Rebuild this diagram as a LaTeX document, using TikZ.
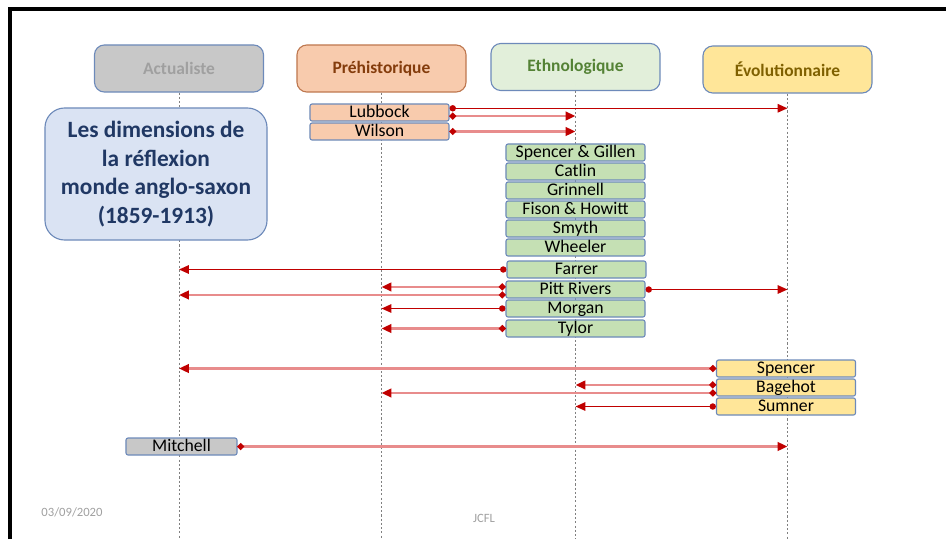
\documentclass[tikz,border=0pt]{standalone}
\usepackage{fontspec}
\setmainfont{Carlito}
\usetikzlibrary{arrows.meta}
\definecolor{bordbleu}{RGB}{109,138,186}
\definecolor{actfond}{RGB}{200,200,200}
\definecolor{acttexte}{RGB}{160,160,160}
\definecolor{prefond}{RGB}{248,203,173}
\definecolor{pretexte}{RGB}{132,60,12}
\definecolor{prebord}{RGB}{190,120,80}
\definecolor{ethfond}{RGB}{226,239,218}
\definecolor{ethtexte}{RGB}{84,130,53}
\definecolor{ethboite}{RGB}{197,224,180}
\definecolor{evofond}{RGB}{255,230,153}
\definecolor{evotexte}{RGB}{127,96,0}
\definecolor{titrefond}{RGB}{218,227,243}
\definecolor{titretexte}{RGB}{32,56,100}
\definecolor{rougef}{RGB}{192,0,0}
\definecolor{rosec}{RGB}{232,140,140}
\tikzset{
    entete/.style={draw=bordbleu, thick, rounded corners=7pt, minimum width=4.225cm,
        minimum height=1.175cm, font=\fontsize{12.4}{14}\selectfont\bfseries},
    auteur/.style={draw=bordbleu, thick, rounded corners=1.5pt, minimum width=3.475cm,
        minimum height=0.425cm, inner sep=0pt, text height=9.4pt, text depth=2pt,
        font=\fontsize{12.6}{13}\selectfont},
    vie/.style={draw=gray, thin, dash pattern=on 1.5pt off 1.5pt},
    msg/.style={draw=rougef, line width=1pt,
        {Circle[length=4.5pt]}-{Triangle[length=7pt,width=6pt]}},
    msgc/.style={draw=rosec, line width=2pt,
        {Circle[length=4.5pt,color=rougef]}-{Triangle[length=7pt,width=6pt,color=rougef]}},
    pied/.style={text=acttexte, font=\fontsize{9}{10}\selectfont}
}

\begin{document}
\begin{tikzpicture}[x=0.025cm, y=-0.025cm]
    \useasboundingbox (0,0) rectangle (946,539);
    \draw[line width=2.8pt] (10,539) -- (10,9) -- (946,9);

    % les quatre entetes
    \node[entete, fill=actfond, text=acttexte] (act) at (179,68.5) {Actualiste};
    \node[entete, fill=prefond, text=pretexte, draw=prebord] (pre) at (381.5,68.5) {Préhistorique};
    \node[entete, fill=ethfond, text=ethtexte] (eth) at (575.5,67) {Ethnologique};
    \node[entete, fill=evofond, text=evotexte] (evo) at (787.5,69.5) {Évolutionnaire};
    \foreach \e in {act,pre,eth,evo}
        \draw[vie] (\e.south) -- (\e.south |- 0,539);

    \node[draw=bordbleu, thick, fill=titrefond, text=titretexte, rounded corners=14pt,
        minimum width=5.55cm, minimum height=3.3cm, align=center,
        font=\fontsize{16.6}{20.3}\selectfont\bfseries] (titre) at (156,174)
        {Les dimensions de\\la réflexion\\monde anglo-saxon\\(1859-1913)};

    \node[auteur, fill=prefond] (lubbock) at (379.5,112.5) {Lubbock};
    \node[auteur, fill=prefond] (wilson) at (379.5,131.5) {Wilson};

    \node[auteur, fill=ethboite] (spgi) at (575.5,152.5) {Spencer \& Gillen};
    \node[auteur, fill=ethboite] (catlin) at (575.5,171.5) {Catlin};
    \node[auteur, fill=ethboite] (grinnell) at (575.5,190.5) {Grinnell};
    \node[auteur, fill=ethboite] (fiho) at (575.5,209.5) {Fison \& Howitt};
    \node[auteur, fill=ethboite] (smyth) at (575.5,228.5) {Smyth};
    \node[auteur, fill=ethboite] (wheeler) at (575.5,247.5) {Wheeler};
    \node[auteur, fill=ethboite] (farrer) at (576.5,269.5) {Farrer};
    \node[auteur, fill=ethboite] (pitt) at (575.5,289.5) {Pitt Rivers};
    \node[auteur, fill=ethboite] (morgan) at (575.5,308.5) {Morgan};
    \node[auteur, fill=ethboite] (tylor) at (575.5,328.5) {Tylor};

    \node[auteur, fill=evofond] (spencer) at (786,368.5) {Spencer};
    \node[auteur, fill=evofond] (bagehot) at (786,387.5) {Bagehot};
    \node[auteur, fill=evofond] (sumner) at (786,406.5) {Sumner};

    \node[auteur, fill=actfond, minimum width=2.775cm] (mitchell) at (181.5,446.5) {Mitchell};

    % les messages
    \draw[msg] ([yshift=3pt]lubbock.east) -- ([yshift=3pt]lubbock.east -| evo);
    \draw[msgc] ([yshift=-2.5pt]lubbock.east) -- ([yshift=-2.5pt]lubbock.east -| eth);
    \draw[msgc] (wilson.east) -- (wilson.east -| eth);
    \draw[msg] (farrer.west) -- (farrer.west -| act);
    \draw[msgc] ([yshift=1.8pt]pitt.west) -- ([yshift=1.8pt]pitt.west -| pre);
    \draw[msgc] ([yshift=-3.9pt]pitt.west) -- ([yshift=-3.9pt]pitt.west -| act);
    \draw[msg] (pitt.east) -- (pitt.east -| evo);
    \draw[msg] (morgan.west) -- (morgan.west -| pre);
    \draw[msgc] (tylor.west) -- (tylor.west -| pre);
    \draw[msgc] (spencer.west) -- (spencer.west -| act);
    \draw[msgc] ([yshift=1.8pt]bagehot.west) -- ([yshift=1.8pt]bagehot.west -| eth);
    \draw[msgc] ([yshift=-3.9pt]bagehot.west) -- ([yshift=-3.9pt]bagehot.west -| pre);
    \draw[msg] (sumner.west) -- (sumner.west -| eth);
    \draw[msgc] (mitchell.east) -- (mitchell.east -| evo);

    \node[pied] (date) at (72,512) {03/09/2020};
    \node[pied] (sigle) at (484,518) {JCFL};
\end{tikzpicture}
\end{document}
